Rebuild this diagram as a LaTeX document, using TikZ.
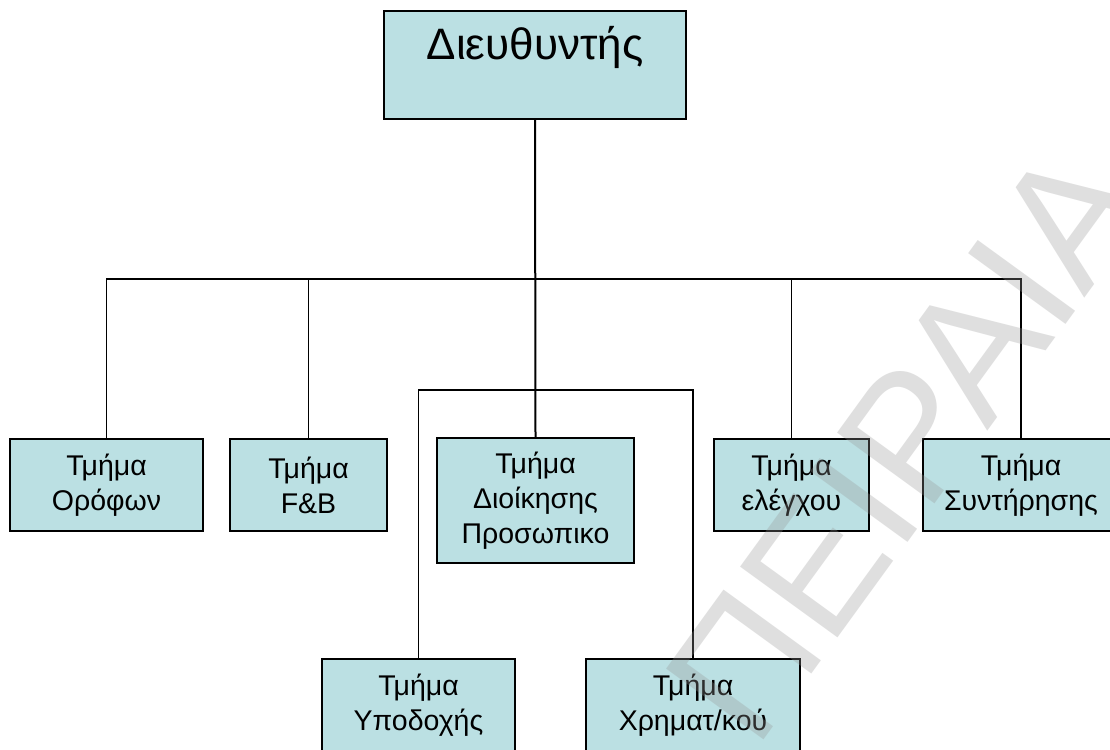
\documentclass[tikz,border=0pt]{standalone}
\usepackage{fontspec}
\setmainfont{Liberation Sans}
\definecolor{boxfill}{RGB}{187,224,227}
\definecolor{wmgray}{RGB}{150,150,150}
\tikzset{
  box/.style={draw=black, line width=1.4pt, fill=boxfill, align=center, inner sep=0pt,
    font=\fontsize{28.5}{35}\selectfont, minimum height=92pt},
  conn/.style={draw=black, line width=1.3pt},
  trunk/.style={draw=black, line width=2pt},
}
\begin{document}
\begin{tikzpicture}[x=1pt,y=-1pt]
\useasboundingbox (0,0) rectangle (1110,749);
\clip (0,0) rectangle (1110,749);
\fill[white] (0,0) rectangle (1110,749);

% boxes
\node[box, minimum width=302pt, minimum height=108pt] (dir) at (535,65) {};
\node[anchor=base, font=\fontsize{44}{52}\selectfont, inner sep=0pt] (dirtext) at (535,60) {Διευθυντής};

\node[box, minimum width=193pt] (orofon) at (106.5,485) {Τμήμα\\Ορόφων};
\node[box, minimum width=157pt] (fb) at (308.5,485) {Τμήμα\\F\&B};
\node[box, minimum width=197pt, minimum height=125pt] (dioik) at (535.5,500.5) {Τμήμα\\Διοίκησης\\Προσωπικο};
\node[box, minimum width=155pt] (elegx) at (791.5,485) {Τμήμα\\ελέγχου};
\node[box, minimum width=196pt] (synt) at (1021,485) {Τμήμα\\Συντήρησης};

\node[box, minimum width=193pt] (ypod) at (418.5,705) {Τμήμα\\Υποδοχής};
\node[box, minimum width=214pt] (xrim) at (693,705) {Τμήμα\\Χρηματ/κού};

% connector levels
\coordinate (h1) at (535,279);
\coordinate (h2) at (535,390);

\draw[trunk] (dir.south) -- (dioik.north);
\draw[conn] (orofon.north) |- (synt.north |- h1) -- (synt.north);
\draw[conn] (fb.north) -- (fb.north |- h1);
\draw[conn] (elegx.north) -- (elegx.north |- h1);
\draw[conn] (ypod.north) |- (xrim.north |- h2) -- (xrim.north);

% watermark
\node[rotate=54, anchor=base west, inner sep=0pt, text=wmgray, opacity=0.3,
  font=\fontsize{175}{175}\selectfont] (wm) at (755,752) {ΠΕΙΡΑΙΑ};
\end{tikzpicture}
\end{document}
